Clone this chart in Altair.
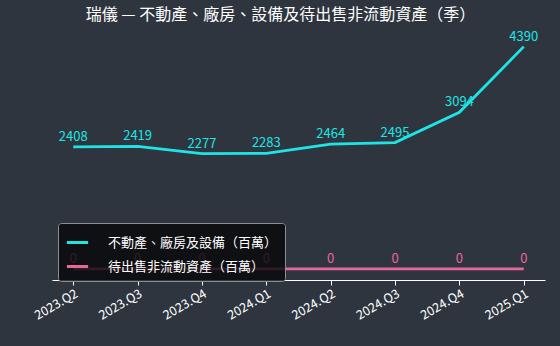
import altair as alt
import pandas as pd

quarters = ["2023.Q2", "2023.Q3", "2023.Q4", "2024.Q1", "2024.Q2", "2024.Q3", "2024.Q4", "2025.Q1"]
ppe = [2408, 2419, 2277, 2283, 2464, 2495, 3094, 4390]
held_for_sale = [0, 0, 0, 0, 0, 0, 0, 0]
series_names = ["不動產、廠房及設備（百萬）", "待出售非流動資產（百萬）"]
colors = ["#1ee5e5", "#e8679f"]

rows = []
for q, v in zip(quarters, ppe):
    rows.append({"q": q, "v": v, "s": series_names[0]})
for q, v in zip(quarters, held_for_sale):
    rows.append({"q": q, "v": v, "s": series_names[1]})
df = pd.DataFrame(rows)

FONT = "Noto Sans CJK TC"
BG = "#2e353f"

x = alt.X("q:N", sort=quarters, scale=alt.Scale(type="point", padding=0.33),
          axis=alt.Axis(title=None, labelAngle=-30, labelAlign="right", labelBaseline="top",
                        labelColor="white", labelFontSize=12.5, labelFont=FONT,
                        domainColor="white", tickColor="white", tickSize=5, grid=False,
                        labelPadding=2))
y = alt.Y("v:Q", scale=alt.Scale(domain=[-220, 4600], nice=False, zero=False), axis=None)
color = alt.Color("s:N", scale=alt.Scale(domain=series_names, range=colors),
                  legend=alt.Legend(title=None, orient="none", legendX=6, legendY=187,
                                    fillColor="rgba(8,8,10,0.82)", strokeColor="#8a8d92", padding=7,
                                    cornerRadius=3, symbolType="stroke", symbolStrokeWidth=3,
                                    symbolSize=450, labelColor="white", labelFontSize=13,
                                    labelFont=FONT, rowPadding=4, labelOffset=18,
                                    labelLimit=400))

lines = alt.Chart(df).mark_line(strokeWidth=2.8).encode(x=x, y=y, color=color)
labels = alt.Chart(df).mark_text(dy=-10, fontSize=13, font=FONT).encode(
    x=x, y=y, text="v:Q", color=alt.Color("s:N", scale=alt.Scale(domain=series_names, range=colors), legend=None))

chart = alt.layer(lines, labels).properties(
    width=493, height=244,
    title=alt.TitleParams("瑞儀 — 不動產、廠房、設備及待出售非流動資產（季）", color="white",
                          fontSize=16, font=FONT, fontWeight="normal", offset=8, dx=-18),
    background=BG,
    padding={"left": 52, "top": 36, "right": 15, "bottom": 66},
    autosize=alt.AutoSizeParams(type="none"),
).configure_view(stroke=None)

chart.save("out.html", embed_options={"renderer": "svg", "actions": False})
